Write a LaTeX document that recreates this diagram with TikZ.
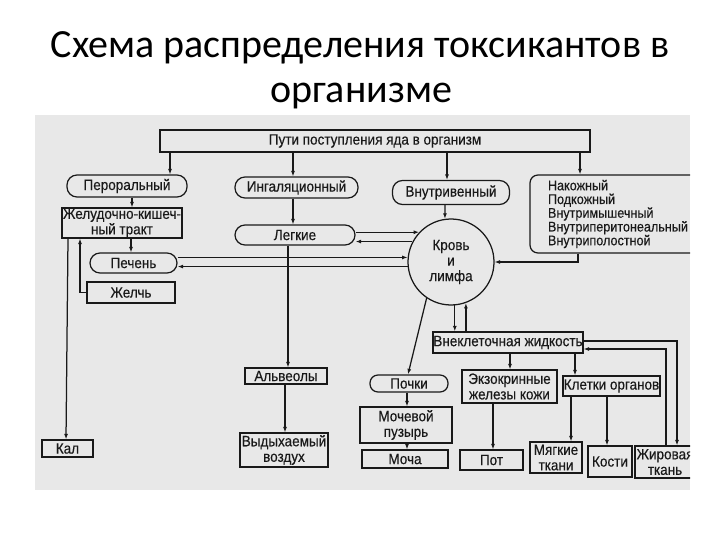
\documentclass[tikz,border=0pt]{standalone}
\usepackage{fontspec}
\usetikzlibrary{arrows.meta}
\newfontfamily\tfont{Carlito}
\newfontfamily\dfont[FakeStretch=0.9,FakeBold=0.3]{Liberation Sans}
\definecolor{scanbg}{RGB}{232,232,232}
\definecolor{ink}{RGB}{25,25,25}
\begin{document}
\begin{tikzpicture}[x=1pt,y=-1pt,
  box/.style={draw=ink, line width=1.25pt, inner sep=0pt, text=ink, align=center,
    font=\dfont\fontsize{15}{15.5}\selectfont},
  rbox/.style={box, rounded corners=10pt},
  arr/.style={draw=ink, line width=1.25pt, -{Latex[length=5.5pt,width=4pt]}},
  titlefont/.style={font=\tfont\fontsize{40}{48}\selectfont, anchor=base, inner sep=0pt}]
\useasboundingbox (0,0) rectangle (720,540);
\node[titlefont] (t1) at (360,58) {Схема распределения токсикантов в};
\node[titlefont] (t2) at (361,103) {организме};
\fill[scanbg] (35,115) rectangle (690,490);
\begin{scope}
\clip (35,115) rectangle (690,490);
% nodes
\node[box, minimum width=430, minimum height=22] (top) at (375,141) {Пути поступления яда в организм};
\node[rbox, minimum width=120, minimum height=22] (peror) at (127,186) {Пероральный};
\node[rbox, minimum width=123, minimum height=21] (ingal) at (296.5,187.5) {Ингаляционный};
\node[rbox, minimum width=117, minimum height=24] (vnutriv) at (451,192.5) {Внутривенный};
\node[box, rounded corners=8pt, align=left, text width=150, inner xsep=18, minimum height=78,
  font=\dfont\fontsize{14}{13.75}\selectfont] (kozh) at (623,214)
  {Накожный\\Подкожный\\Внутримышечный\\Внутриперитонеальный\\Внутриполостной};
\node[box, minimum width=120, minimum height=30] (gkt) at (122,223) {Желудочно-кишеч-\\ный тракт};
\node[rbox, minimum width=120, minimum height=20] (legk) at (295,235) {Легкие};
\node[rbox, minimum width=87, minimum height=20] (pech) at (133.5,263) {Печень};
\node[box, minimum width=88, minimum height=21] (zhelch) at (131,292.5) {Желчь};
\node[box, circle, minimum size=86] (krov) at (451,262) {Кровь\\и\\лимфа};
\node[box, minimum width=150, minimum height=21] (vnekl) at (508,342.5) {Внеклеточная жидкость};
\node[rbox, rounded corners=8pt, minimum width=78, minimum height=17] (pochki) at (409,383.5) {Почки};
\node[box, minimum width=92, minimum height=36] (puzyr) at (406,425) {Мочевой\\пузырь};
\node[box, minimum width=86, minimum height=18] (mocha) at (405,459) {Моча};
\node[box, minimum width=95, minimum height=33] (exo) at (509.5,386.5) {Экзокринные\\железы кожи};
\node[box, minimum width=63, minimum height=20] (pot) at (491.5,460) {Пот};
\node[box, minimum width=97, minimum height=20] (kletki) at (611.5,386) {Клетки органов};
\node[box, minimum width=52, minimum height=31] (myag) at (556,457.5) {Мягкие\\ткани};
\node[box, minimum width=44, minimum height=31] (kosti) at (610,461.5) {Кости};
\node[box, minimum width=60, minimum height=32] (zhir) at (665,462) {Жировая\\ткань};
\node[box, minimum width=82, minimum height=16] (alv) at (286,376) {Альвеолы};
\node[box, minimum width=88, minimum height=34] (vyd) at (284,450) {Выдыхаемый\\воздух};
\node[box, minimum width=51, minimum height=17] (kal) at (67.5,448.5) {Кал};
% connectors
\draw[arr] ([xshift=-205]top.south) -- ([xshift=43]peror.north);
\draw[arr] ([xshift=-82]top.south) -- ([xshift=-3.5]ingal.north);
\draw[arr] ([xshift=72]top.south) -- ([xshift=-4]vnutriv.north);
\draw[arr] ([xshift=205]top.south) -- ([xshift=-43]kozh.north);
\draw[arr] ([xshift=5]peror.south) -- ([xshift=10]gkt.north);
\draw[arr] ([xshift=9]gkt.south) -- ([xshift=-2.5]pech.north);
\draw[arr] (zhelch.west) -| ([xshift=-42]gkt.south);
\draw[arr] ([xshift=-54]gkt.south) -- ([xshift=-1.5]kal.north);
\draw[arr] ([xshift=-3.5]ingal.south) -- ([xshift=-2]legk.north);
\draw[arr] ([xshift=-7]legk.south) -- ([xshift=2]alv.north);
\draw[arr] ([xshift=-1]alv.south) -- ([xshift=1]vyd.north);
\draw[arr] ([xshift=-6]vnutriv.south) -- (krov.98);
\draw[arr] (krov.137.6 -| legk.east) -- (krov.137.6);
\draw[arr] (krov.152.3) -- (krov.152.3 -| legk.east);
\draw[arr] (krov.174.7 -| pech.east) -- (krov.174.7);
\draw[arr] (krov.186.7) -- (krov.186.7 -| pech.east);
\draw[arr] ([xshift=-45]kozh.south) |- (krov.east);
\draw[arr] (krov.236) -- ([xshift=-1]pochki.north);
\draw[arr] (krov.275.3) -- (krov.275.3 |- vnekl.north);
\draw[arr] (krov.290.4 |- vnekl.north) -- (krov.290.4);
\draw[arr] ([xshift=-2]pochki.south) -- ([xshift=1]puzyr.north);
\draw[arr] ([xshift=1]puzyr.south) -- ([xshift=2]mocha.north);
\draw[arr] ([xshift=2]vnekl.south) -- ([xshift=0.5]exo.north);
\draw[arr] ([xshift=-16.5]exo.south) -- ([xshift=1.5]pot.north);
\draw[arr] ([xshift=67]vnekl.south) -- ([xshift=-36.5]kletki.north);
\draw[arr] ([xshift=-40.5]kletki.south) -- ([xshift=15]myag.north);
\draw[arr] ([xshift=-4.5]kletki.south) -- ([xshift=-3]kosti.north);
\draw[arr, line width=1.9pt] ([yshift=1.5]vnekl.east) -| ([xshift=12]zhir.north);
\draw[arr] ([xshift=1]zhir.north) |- ([yshift=-6.5]vnekl.east);
\end{scope}
\end{tikzpicture}
\end{document}
